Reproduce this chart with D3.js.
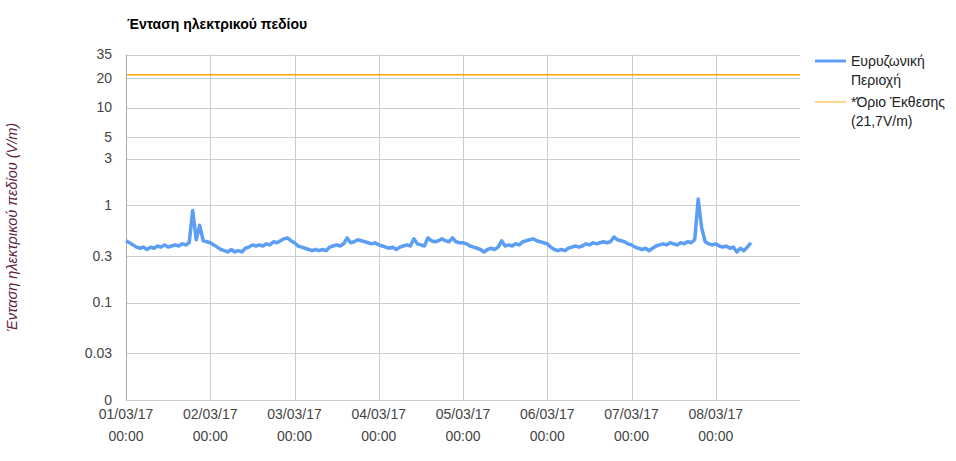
<!DOCTYPE html>
<html><head><meta charset="utf-8">
<script src="https://cdn.jsdelivr.net/npm/d3@7"></script>
<style>
body{margin:0;background:#fff}
text{font-family:Arial,"Liberation Sans",sans-serif}
</style>
</head><body>
<svg id="c" width="956" height="461"></svg>
<script>
// ---- data ----
const chartTitle = "Ένταση ηλεκτρικού πεδίου";
const yAxisTitle = "Ένταση ηλεκτρικού πεδίου (V/m)";
const startTime = new Date(2017, 2, 1, 0, 0);
const endTime = new Date(2017, 2, 9, 0, 0);
const stepHours = 1;
// hourly readings, 01/03/17 00:00 onward (V/m)
const broadband = [
  0.43,0.41,0.39,0.37,0.36,0.37,0.35,0.37,0.36,0.38,0.37,0.39,0.37,0.38,0.39,0.38,0.40,0.39,0.41,0.88,0.44,0.62,0.43,0.42,
  0.41,0.39,0.37,0.35,0.34,0.33,0.35,0.33,0.34,0.33,0.36,0.37,0.39,0.38,0.39,0.38,0.40,0.39,0.42,0.41,0.43,0.45,0.46,0.43,
  0.41,0.38,0.37,0.36,0.35,0.34,0.35,0.34,0.35,0.34,0.37,0.38,0.39,0.38,0.40,0.46,0.41,0.42,0.44,0.43,0.42,0.41,0.40,0.41,
  0.39,0.38,0.37,0.36,0.37,0.35,0.37,0.38,0.39,0.38,0.45,0.40,0.39,0.38,0.46,0.43,0.42,0.43,0.45,0.43,0.42,0.46,0.42,0.41,
  0.41,0.40,0.38,0.37,0.36,0.35,0.33,0.35,0.36,0.35,0.37,0.43,0.38,0.39,0.38,0.40,0.39,0.42,0.43,0.44,0.45,0.43,0.42,0.41,
  0.40,0.37,0.35,0.34,0.35,0.34,0.36,0.37,0.38,0.37,0.38,0.40,0.39,0.41,0.40,0.41,0.42,0.41,0.42,0.47,0.44,0.43,0.42,0.40,
  0.39,0.37,0.36,0.35,0.36,0.34,0.36,0.38,0.39,0.40,0.39,0.41,0.40,0.39,0.41,0.40,0.42,0.41,0.44,1.15,0.58,0.42,0.40,0.39,
  0.40,0.38,0.37,0.38,0.36,0.37,0.33,0.36,0.34,0.37,0.41
];
const limitValue = 21.7;
const yTicks = [0, 0.03, 0.1, 0.3, 1, 3, 5, 10, 20, 35];
const xTickDays = [1, 2, 3, 4, 5, 6, 7, 8];
const legendEntries = [
  {lines: ["Ευρυζωνική", "Περιοχή"], key: "series"},
  {lines: ["*Όριο Έκθεσης", "(21,7V/m)"], key: "limit"}
];

// ---- layout ----
const M = {left: 126, top: 54.5, right: 800, bottom: 400};
const colBlue = "#5c9ef4", colOrange = "#f9a602", colGrid = "#cccccc", colText = "#444444";
const FS = 14;

const svg = d3.select("#c");
const x = d3.scaleTime().domain([startTime, endTime]).range([M.left, M.right]);
const y = d3.scaleLog().domain([0.01, 35]).range([M.bottom, M.top]).clamp(true);

const pts = broadband.map((v, i) => ({t: d3.timeHour.offset(startTime, i * stepHours), v}));

// title
svg.append("text").attr("x", M.left + 1).attr("y", 29)
  .attr("font-size", FS).attr("font-weight", "bold").attr("fill", "#000")
  .text(chartTitle);

// horizontal grid
svg.append("g").selectAll("line").data(yTicks).join("line")
  .attr("x1", M.left).attr("x2", M.right)
  .attr("y1", d => Math.round(y(d)) + 0.5).attr("y2", d => Math.round(y(d)) + 0.5)
  .attr("stroke", colGrid).attr("stroke-width", 1);

// vertical grid
const xTicks = xTickDays.map(d => new Date(2017, 2, d, 0, 0));
svg.append("g").selectAll("line").data(xTicks.slice(1)).join("line")
  .attr("x1", d => Math.round(x(d)) + 0.5).attr("x2", d => Math.round(x(d)) + 0.5)
  .attr("y1", M.top).attr("y2", M.bottom)
  .attr("stroke", colGrid).attr("stroke-width", 1);

// left axis line
svg.append("line").attr("x1", M.left + 0.5).attr("x2", M.left + 0.5)
  .attr("y1", M.top).attr("y2", M.bottom + 0.5)
  .attr("stroke", "#a8a8a8").attr("stroke-width", 1);

// y tick labels
svg.append("g").selectAll("text").data(yTicks).join("text")
  .attr("x", 112).attr("y", d => y(d)).attr("dy", "0.35em")
  .attr("text-anchor", "end").attr("font-size", FS).attr("fill", colText)
  .text(d => String(d));

// x tick labels
const fDate = d3.timeFormat("%d/%m/%y"), fTime = d3.timeFormat("%H:%M");
const xl = svg.append("g").selectAll("g").data(xTicks).join("g")
  .attr("transform", d => `translate(${x(d)},0)`);
xl.append("text").attr("y", 419).attr("text-anchor", "middle")
  .attr("font-size", FS).attr("fill", colText).text(d => fDate(d));
xl.append("text").attr("y", 441).attr("text-anchor", "middle")
  .attr("font-size", FS).attr("fill", colText).text(d => fTime(d));

// y axis title
svg.append("text")
  .attr("transform", `translate(17,${(M.top + M.bottom) / 2}) rotate(-90)`)
  .attr("text-anchor", "middle").attr("font-size", 14.5).attr("font-style", "italic")
  .attr("fill", "#5b2340").text(yAxisTitle);

// limit line
svg.append("line").attr("x1", M.left + 1).attr("x2", M.right)
  .attr("y1", y(limitValue)).attr("y2", y(limitValue))
  .attr("stroke", colOrange).attr("stroke-width", 1.5);

// series line
svg.append("path").datum(pts)
  .attr("fill", "none").attr("stroke", colBlue).attr("stroke-width", 3.5)
  .attr("stroke-linejoin", "round")
  .attr("d", d3.line().x(d => x(d.t)).y(d => y(d.v)));

// legend
const lg = svg.append("g").selectAll("g").data(legendEntries).join("g")
  .attr("transform", (d, i) => `translate(815,${61 + i * 41})`);
lg.append("line").attr("x1", 0).attr("x2", 31).attr("y1", 0).attr("y2", 0)
  .attr("stroke", d => d.key === "series" ? colBlue : "#fcc865")
  .attr("stroke-width", d => d.key === "series" ? 3 : 1.5);
lg.each(function(d) {
  d3.select(this).selectAll("text").data(d.lines).join("text")
    .attr("x", 36).attr("y", (t, j) => j * 19).attr("dy", "0.35em")
    .attr("font-size", FS).attr("fill", "#222").text(t => t);
});
</script>
</body></html>
